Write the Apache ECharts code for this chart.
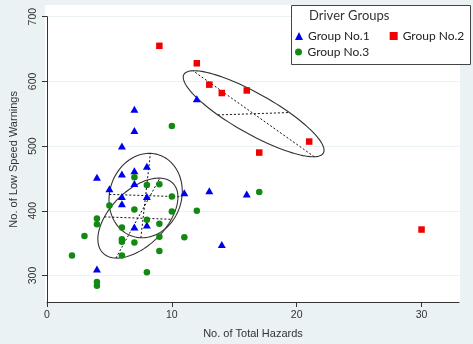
<!DOCTYPE html>
<html>
<head>
<meta charset="utf-8">
<script src="https://cdn.jsdelivr.net/npm/echarts@6/dist/echarts.min.js"></script>
<style>
  html, body { margin: 0; padding: 0; }
  #chart { width: 473px; height: 344px; }
</style>
</head>
<body>
<div id="chart"></div>
<script>
// Group No.1 (blue triangles): [hazards, warnings]
const group1 = [
  [7, 557], [7, 524], [6, 500], [4, 452], [6, 457], [7, 462], [8, 469],
  [5, 434], [7, 442], [6, 422], [6, 411], [8, 422], [11, 428], [7, 375],
  [8, 378], [4, 310], [12, 573], [13, 431], [16, 426], [14, 348]
];
// Group No.2 (red squares)
const group2 = [
  [9, 655], [12, 628], [13, 595], [14, 582], [16, 586], [21, 507], [17, 490], [30, 371]
];
// Group No.3 (green circles)
const group3 = [
  [10, 531], [7, 452], [8, 440], [9, 441], [5, 408], [7, 402], [10, 422],
  [10, 399], [12, 400], [4, 388], [4, 379], [6, 374], [8, 386], [9, 380],
  [3, 361], [6, 356], [6, 352], [7, 351], [9, 360], [11, 359], [9, 338],
  [6, 331], [2, 331], [8, 305], [4, 290], [4, 284], [17, 429]
];
// ellipses (data units): centre, first semi-diameter, conjugate semi-diameter
const ellipseCenters = [[7.9, 423.5], [16.55, 550], [7.28, 388.7]];
const ellipseAxisA = [[0.38, 65.2], [-4.86, 66.5], [1.76, 61.8]];
const ellipseAxisB = [[2.91, -1.85], [2.86, 1.85], [2.68, -1.85]];

const xTicks = [0, 10, 20, 30];
const yTicks = [300, 400, 500, 600, 700];

const font = "'Liberation Sans', Arial, sans-serif";
const legendFont = "Lato, 'Open Sans', sans-serif";

const chart = echarts.init(document.getElementById('chart'));

const renderEllipse = (params, api) => {
  const i = params.dataIndex;
  const c0 = ellipseCenters[i];
  const a0 = ellipseAxisA[i];
  const b0 = ellipseAxisB[i];
  const c = api.coord(c0);
  const pa = api.coord([c0[0] + a0[0], c0[1] + a0[1]]);
  const pb = api.coord([c0[0] + b0[0], c0[1] + b0[1]]);
  const U = [pa[0] - c[0], pa[1] - c[1]];
  const V = [pb[0] - c[0], pb[1] - c[1]];
  const pts = [];
  for (let k = 0; k < 120; k++) {
    const t = k / 120 * Math.PI * 2;
    pts.push([
      c[0] + U[0] * Math.cos(t) + V[0] * Math.sin(t),
      c[1] + U[1] * Math.cos(t) + V[1] * Math.sin(t)
    ]);
  }
  const dash = { stroke: '#111', lineWidth: 1, lineDash: [2, 2], fill: null };
  return {
    type: 'group',
    children: [
      { type: 'polygon', shape: { points: pts }, style: { fill: null, stroke: '#333', lineWidth: 1.1 } },
      { type: 'line', shape: { x1: c[0] - U[0], y1: c[1] - U[1], x2: c[0] + U[0], y2: c[1] + U[1] }, style: dash },
      { type: 'line', shape: { x1: c[0] - V[0], y1: c[1] - V[1], x2: c[0] + V[0], y2: c[1] + V[1] }, style: dash }
    ]
  };
};

const option = {
  backgroundColor: '#eaf2f3',
  animation: false,
  graphic: [
    // white plot region
    { type: 'rect', z: -10, shape: { x: 45, y: 5, width: 415, height: 297.5 }, style: { fill: '#fff' } },
    // legend box
    { type: 'rect', z: 3, shape: { x: 291.5, y: 5.5, width: 179, height: 59 }, style: { fill: '#fff', stroke: '#444', lineWidth: 1 } }
  ],
  title: {
    text: 'Driver Groups',
    left: 309, top: 9, padding: 0,
    textStyle: { fontFamily: legendFont, fontSize: 13, fontWeight: 'normal', color: '#333' }
  },
  legend: [
    {
      data: [{ name: 'Group No.1', icon: 'triangle' }, { name: 'Group No.2', icon: 'rect' }],
      left: 295, top: 30, padding: 0, itemGap: 20, itemWidth: 8, itemHeight: 8,
      textStyle: { fontFamily: legendFont, fontSize: 12, color: '#222' }
    },
    {
      data: [{ name: 'Group No.3', icon: 'circle' }],
      left: 295, top: 46, padding: 0, itemWidth: 8, itemHeight: 7,
      textStyle: { fontFamily: legendFont, fontSize: 12, color: '#222' }
    }
  ],
  grid: { left: 46.5, right: 14, top: 16.7, bottom: 41.7 },
  xAxis: {
    type: 'value', min: 0, max: 33,
    name: 'No. of Total Hazards', nameLocation: 'middle', nameGap: 26,
    nameTextStyle: { fontFamily: font, fontSize: 11, color: '#333' },
    axisLine: { show: true, lineStyle: { color: '#333' } },
    axisTick: { show: true, length: 5, customValues: xTicks, lineStyle: { color: '#333' } },
    axisLabel: { customValues: xTicks, margin: 8, fontFamily: font, fontSize: 10.5, color: '#333' },
    splitLine: { show: false }
  },
  yAxis: {
    type: 'value', min: 259, max: 700,
    name: 'No. of Low Speed Warnings', nameLocation: 'middle', nameGap: 28,
    nameTextStyle: { fontFamily: font, fontSize: 11, color: '#333' },
    axisLine: { show: true, lineStyle: { color: '#333' } },
    axisTick: { show: true, length: 5, customValues: yTicks, lineStyle: { color: '#333' } },
    axisLabel: { customValues: yTicks, rotate: 90, margin: 8, fontFamily: font, fontSize: 10.5, color: '#333' },
    splitLine: { show: true, lineStyle: { color: '#eaf2f3', width: 1 } }
  },
  series: [
    {
      name: 'Ellipses', type: 'custom', z: 1, silent: true,
      data: ellipseCenters, renderItem: renderEllipse
    },
    {
      name: 'Group No.1', type: 'scatter', symbol: 'triangle', symbolSize: [8, 7],
      itemStyle: { color: '#0000f0', opacity: 1 }, data: group1
    },
    {
      name: 'Group No.2', type: 'scatter', symbol: 'rect', symbolSize: 6.5,
      itemStyle: { color: '#f00000', opacity: 1 }, data: group2
    },
    {
      name: 'Group No.3', type: 'scatter', symbol: 'circle', symbolSize: 6.5,
      itemStyle: { color: '#128a12', opacity: 1 }, data: group3
    }
  ]
};

chart.setOption(option);
</script>
</body>
</html>
